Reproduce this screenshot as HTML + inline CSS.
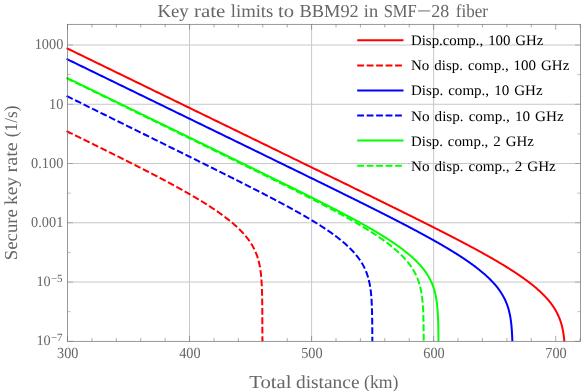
<!DOCTYPE html>
<html><head><meta charset="utf-8"><title>Key rate limits</title>
<style>html,body{margin:0;padding:0;background:#fff;}body{width:581px;height:391px;overflow:hidden;position:relative;font-family:"Liberation Serif",serif;}svg text{font-family:"Liberation Serif",serif;text-rendering:geometricPrecision;}</style></head>
<body>
<svg width="581" height="391" viewBox="0 0 581 391" style="position:absolute;left:0;top:0;will-change:transform">
<line x1="67.5" x2="580.5" y1="45.00" y2="45.00" stroke="#c8c8c8" stroke-width="1"/>
<line x1="67.5" x2="580.5" y1="104.26" y2="104.26" stroke="#c8c8c8" stroke-width="1"/>
<line x1="67.5" x2="580.5" y1="163.52" y2="163.52" stroke="#c8c8c8" stroke-width="1"/>
<line x1="67.5" x2="580.5" y1="222.78" y2="222.78" stroke="#c8c8c8" stroke-width="1"/>
<line x1="67.5" x2="580.5" y1="282.04" y2="282.04" stroke="#c8c8c8" stroke-width="1"/>
<line x1="189.55" x2="189.55" y1="24.3" y2="341.3" stroke="#c8c8c8" stroke-width="1"/>
<line x1="311.60" x2="311.60" y1="24.3" y2="341.3" stroke="#c8c8c8" stroke-width="1"/>
<line x1="433.65" x2="433.65" y1="24.3" y2="341.3" stroke="#c8c8c8" stroke-width="1"/>
<path d="M67.5 341.30h5.5M580.5 341.30h-5.5M67.5 311.67h3.2M580.5 311.67h-3.2M67.5 282.04h5.5M580.5 282.04h-5.5M67.5 252.41h3.2M580.5 252.41h-3.2M67.5 222.78h5.5M580.5 222.78h-5.5M67.5 193.15h3.2M580.5 193.15h-3.2M67.5 163.52h5.5M580.5 163.52h-5.5M67.5 133.89h3.2M580.5 133.89h-3.2M67.5 104.26h5.5M580.5 104.26h-5.5M67.5 74.63h3.2M580.5 74.63h-3.2M67.5 45.00h5.5M580.5 45.00h-5.5" stroke="#666" stroke-width="0.4" fill="none"/>
<path d="M67.50 341.3v-5.5M67.50 24.3v5.5M91.91 341.3v-3.2M91.91 24.3v3.2M116.32 341.3v-3.2M116.32 24.3v3.2M140.73 341.3v-3.2M140.73 24.3v3.2M165.14 341.3v-3.2M165.14 24.3v3.2M189.55 341.3v-5.5M189.55 24.3v5.5M213.96 341.3v-3.2M213.96 24.3v3.2M238.37 341.3v-3.2M238.37 24.3v3.2M262.78 341.3v-3.2M262.78 24.3v3.2M287.19 341.3v-3.2M287.19 24.3v3.2M311.60 341.3v-5.5M311.60 24.3v5.5M336.01 341.3v-3.2M336.01 24.3v3.2M360.42 341.3v-3.2M360.42 24.3v3.2M384.83 341.3v-3.2M384.83 24.3v3.2M409.24 341.3v-3.2M409.24 24.3v3.2M433.65 341.3v-5.5M433.65 24.3v5.5M458.06 341.3v-3.2M458.06 24.3v3.2M482.47 341.3v-3.2M482.47 24.3v3.2M506.88 341.3v-3.2M506.88 24.3v3.2M531.29 341.3v-3.2M531.29 24.3v3.2M555.70 341.3v-5.5M555.70 24.3v5.5M580.11 341.3v-3.2M580.11 24.3v3.2" stroke="#666" stroke-width="0.55" fill="none"/>
<path d="M66.60 48.11L67.50 48.55L69.94 49.74L72.38 50.93L74.82 52.11L77.26 53.30L79.70 54.49L82.15 55.68L84.59 56.86L87.03 58.05L89.47 59.24L91.91 60.43L94.35 61.62L96.79 62.80L99.23 63.99L101.67 65.18L104.11 66.37L106.56 67.55L109.00 68.74L111.44 69.93L113.88 71.12L116.32 72.31L118.76 73.49L121.20 74.68L123.64 75.87L126.08 77.06L128.53 78.24L130.97 79.43L133.41 80.62L135.85 81.81L138.29 83.00L140.73 84.18L143.17 85.37L145.61 86.56L148.05 87.75L150.49 88.94L152.94 90.12L155.38 91.31L157.82 92.50L160.26 93.69L162.70 94.87L165.14 96.06L167.58 97.25L170.02 98.44L172.46 99.63L174.90 100.81L177.34 102.00L179.79 103.19L182.23 104.38L184.67 105.56L187.11 106.75L189.55 107.94L191.99 109.13L194.43 110.32L196.87 111.50L199.31 112.69L201.75 113.88L204.20 115.07L206.64 116.26L209.08 117.44L211.52 118.63L213.96 119.82L216.40 121.01L218.84 122.20L221.28 123.38L223.72 124.57L226.16 125.76L228.61 126.95L231.05 128.13L233.49 129.32L235.93 130.51L238.37 131.70L240.81 132.89L243.25 134.07L245.69 135.26L248.13 136.45L250.57 137.64L253.02 138.83L255.46 140.02L257.90 141.20L260.34 142.39L262.78 143.58L265.22 144.77L267.66 145.96L270.10 147.14L272.54 148.33L274.99 149.52L277.43 150.71L279.87 151.90L282.31 153.09L284.75 154.28L287.19 155.46L289.63 156.65L292.07 157.84L294.51 159.03L296.95 160.22L299.39 161.41L301.84 162.60L304.28 163.79L306.72 164.98L309.16 166.17L311.60 167.36L314.04 168.54L316.48 169.73L318.92 170.92L321.36 172.11L323.81 173.30L326.25 174.49L328.69 175.69L331.13 176.88L333.57 178.07L336.01 179.26L338.45 180.45L340.89 181.64L343.33 182.83L345.77 184.02L348.21 185.22L350.66 186.41L353.10 187.60L355.54 188.80L357.98 189.99L360.42 191.18L362.86 192.38L365.30 193.57L367.74 194.77L370.18 195.96L372.62 197.16L373.24 197.46L373.85 197.76L374.46 198.06L375.07 198.36L375.68 198.66L376.29 198.96L376.90 199.26L377.51 199.56L378.12 199.85L378.73 200.15L379.34 200.45L379.95 200.75L380.56 201.05L381.17 201.35L381.78 201.65L382.39 201.95L383.00 202.25L383.61 202.55L384.22 202.85L384.83 203.15L385.44 203.45L386.05 203.75L386.66 204.05L387.27 204.35L387.88 204.65L388.49 204.95L389.10 205.25L389.71 205.55L390.32 205.85L390.93 206.16L391.54 206.46L392.15 206.76L392.76 207.06L393.37 207.36L393.98 207.66L394.59 207.96L395.20 208.26L395.81 208.56L396.42 208.86L397.03 209.16L397.65 209.47L398.26 209.77L398.87 210.07L399.48 210.37L400.09 210.67L400.70 210.97L401.31 211.27L401.92 211.58L402.53 211.88L403.14 212.18L403.75 212.48L404.36 212.78L404.97 213.09L405.58 213.39L406.19 213.69L406.80 213.99L407.41 214.30L408.02 214.60L408.63 214.90L409.24 215.20L409.85 215.51L410.46 215.81L411.07 216.11L411.68 216.42L412.29 216.72L412.90 217.02L413.51 217.33L414.12 217.63L414.73 217.93L415.34 218.24L415.95 218.54L416.56 218.84L417.17 219.15L417.78 219.45L418.39 219.76L419.00 220.06L419.61 220.37L420.22 220.67L420.83 220.98L421.44 221.28L422.06 221.59L422.67 221.89L423.28 222.20L423.89 222.50L424.50 222.81L425.11 223.11L425.72 223.42L426.33 223.73L426.94 224.03L427.55 224.34L428.16 224.65L428.77 224.95L429.38 225.26L429.99 225.57L430.60 225.87L431.21 226.18L431.82 226.49L432.43 226.80L433.04 227.10L433.65 227.41L434.26 227.72L434.87 228.03L435.48 228.34L436.09 228.65L436.70 228.95L437.31 229.26L437.92 229.57L438.53 229.88L439.14 230.19L439.75 230.50L440.36 230.81L440.97 231.12L441.58 231.43L442.19 231.74L442.80 232.05L443.41 232.37L444.02 232.68L444.63 232.99L445.24 233.30L445.85 233.61L446.47 233.93L447.08 234.24L447.69 234.55L448.30 234.86L448.91 235.18L449.52 235.49L450.13 235.81L450.74 236.12L451.35 236.43L451.96 236.75L452.57 237.06L453.18 237.38L453.79 237.70L454.40 238.01L455.01 238.33L455.62 238.65L456.23 238.96L456.84 239.28L457.45 239.60L458.06 239.92L458.67 240.23L459.28 240.55L459.89 240.87L460.50 241.19L461.11 241.51L461.72 241.83L462.33 242.15L462.94 242.47L463.55 242.79L464.16 243.11L464.77 243.44L465.38 243.76L465.99 244.08L466.60 244.41L467.21 244.73L467.82 245.05L468.43 245.38L469.04 245.70L469.65 246.03L470.26 246.36L470.88 246.68L471.49 247.01L472.10 247.34L472.71 247.66L473.32 247.99L473.93 248.32L474.54 248.65L475.15 248.98L475.76 249.31L476.37 249.64L476.98 249.98L477.59 250.31L478.20 250.64L478.81 250.97L479.42 251.31L480.03 251.64L480.64 251.98L481.25 252.32L481.86 252.65L482.47 252.99L483.08 253.33L483.69 253.67L484.30 254.01L484.91 254.35L485.52 254.69L486.13 255.03L486.74 255.37L487.35 255.72L487.96 256.06L488.57 256.40L489.18 256.75L489.79 257.10L490.40 257.44L491.01 257.79L491.62 258.14L492.23 258.49L492.84 258.84L493.45 259.19L494.06 259.55L494.67 259.90L495.29 260.26L495.90 260.61L496.51 260.97L497.12 261.33L497.73 261.68L498.34 262.04L498.95 262.41L499.56 262.77L500.17 263.13L500.78 263.50L501.39 263.86L502.00 264.23L502.61 264.60L503.22 264.97L503.83 265.34L504.44 265.71L505.05 266.08L505.66 266.46L506.27 266.84L506.88 267.21L507.49 267.59L508.10 267.97L508.71 268.36L509.32 268.74L509.93 269.13L510.54 269.52L511.15 269.90L511.76 270.30L512.37 270.69L512.98 271.08L513.59 271.48L514.20 271.88L514.81 272.28L515.42 272.68L516.03 273.08L516.64 273.49L517.25 273.90L517.86 274.31L518.47 274.72L519.09 275.14L519.70 275.56L520.31 275.98L520.92 276.40L521.53 276.83L522.14 277.26L522.75 277.69L523.36 278.12L523.97 278.56L524.58 279.00L525.19 279.44L525.80 279.89L526.41 280.34L527.02 280.79L527.63 281.25L528.24 281.71L528.85 282.17L529.46 282.64L530.07 283.11L530.68 283.58L531.29 284.06L531.90 284.55L532.51 285.04L533.12 285.53L533.73 286.03L534.34 286.53L534.95 287.04L535.56 287.55L536.17 288.07L536.78 288.60L537.39 289.13L538.00 289.67L538.61 290.21L539.22 290.76L539.83 291.32L540.44 291.89L541.05 292.46L541.66 293.05L542.27 293.64L542.88 294.24L543.49 294.85L544.11 295.47L544.72 296.10L545.33 296.75L545.94 297.40L546.55 298.07L547.16 298.75L547.77 299.45L548.38 300.16L548.99 300.89L549.60 301.64L550.21 302.40L550.82 303.19L551.43 304.00L551.55 304.16L551.67 304.33L551.79 304.49L551.92 304.66L552.04 304.83L552.16 305.00L552.28 305.17L552.40 305.34L552.53 305.52L552.65 305.69L552.77 305.87L552.89 306.04L553.01 306.22L553.14 306.40L553.26 306.58L553.38 306.76L553.50 306.95L553.63 307.13L553.75 307.32L553.87 307.50L553.99 307.69L554.11 307.88L554.24 308.07L554.36 308.27L554.48 308.46L554.60 308.66L554.72 308.85L554.85 309.05L554.97 309.25L555.09 309.46L555.21 309.66L555.33 309.87L555.46 310.08L555.58 310.28L555.70 310.50L555.82 310.71L555.94 310.93L556.07 311.14L556.19 311.36L556.31 311.59L556.43 311.81L556.55 312.04L556.68 312.27L556.80 312.50L556.92 312.73L557.04 312.97L557.16 313.21L557.29 313.45L557.41 313.70L557.53 313.95L557.65 314.20L557.77 314.45L557.90 314.71L558.02 314.97L558.14 315.23L558.26 315.50L558.39 315.77L558.51 316.04L558.63 316.32L558.75 316.60L558.87 316.89L559.00 317.18L559.12 317.48L559.24 317.78L559.36 318.08L559.48 318.39L559.61 318.71L559.73 319.03L559.85 319.35L559.97 319.68L560.09 320.02L560.22 320.37L560.34 320.72L560.46 321.07L560.58 321.44L560.70 321.81L560.83 322.19L560.95 322.58L561.07 322.98L561.19 323.39L561.31 323.81L561.44 324.23L561.56 324.67L561.68 325.12L561.80 325.59L561.92 326.07L562.05 326.56L562.17 327.06L562.29 327.59L562.41 328.13L562.53 328.69L562.66 329.27L562.78 329.87L562.90 330.50L563.02 331.15L563.15 331.84L563.27 332.55L563.39 333.30L563.51 334.09L563.63 334.93L563.76 335.82L563.88 336.76L564.00 337.77L564.12 338.86L564.24 340.03L564.36 341.30" stroke="#f00" stroke-width="2" fill="none" stroke-linejoin="round"/>
<path d="M66.60 131.01L67.50 131.58L68.11 131.88L68.72 132.18L69.33 132.48L69.94 132.78L70.55 133.08L71.16 133.37L71.77 133.67L72.38 133.97L72.99 134.27L73.60 134.57L74.21 134.87L74.82 135.17L75.43 135.47L76.04 135.77L76.65 136.07L77.26 136.37L77.87 136.67L78.48 136.97L79.09 137.27L79.70 137.57L80.32 137.87L80.93 138.17L81.54 138.47L82.15 138.77L82.76 139.07L83.37 139.37L83.98 139.67L84.59 139.97L85.20 140.27L85.81 140.57L86.42 140.87L87.03 141.17L87.64 141.47L88.25 141.77L88.86 142.07L89.47 142.37L90.08 142.67L90.69 142.98L91.30 143.28L91.91 143.58L92.52 143.88L93.13 144.18L93.74 144.48L94.35 144.78L94.96 145.08L95.57 145.38L96.18 145.69L96.79 145.99L97.40 146.29L98.01 146.59L98.62 146.89L99.23 147.19L99.84 147.50L100.45 147.80L101.06 148.10L101.67 148.40L102.28 148.70L102.89 149.01L103.50 149.31L104.11 149.61L104.73 149.91L105.34 150.22L105.95 150.52L106.56 150.82L107.17 151.13L107.78 151.43L108.39 151.73L109.00 152.03L109.61 152.34L110.22 152.64L110.83 152.95L111.44 153.25L112.05 153.55L112.66 153.86L113.27 154.16L113.88 154.46L114.49 154.77L115.10 155.07L115.71 155.38L116.32 155.68L116.93 155.99L117.54 156.29L118.15 156.60L118.76 156.90L119.37 157.21L119.98 157.51L120.59 157.82L121.20 158.12L121.81 158.43L122.42 158.74L123.03 159.04L123.64 159.35L124.25 159.65L124.86 159.96L125.47 160.27L126.08 160.57L126.69 160.88L127.30 161.19L127.91 161.50L128.53 161.80L129.14 162.11L129.75 162.42L130.36 162.73L130.97 163.03L131.58 163.34L132.19 163.65L132.80 163.96L133.41 164.27L134.02 164.58L134.63 164.89L135.24 165.20L135.85 165.51L136.46 165.82L137.07 166.13L137.68 166.44L138.29 166.75L138.90 167.06L139.51 167.37L140.12 167.68L140.73 167.99L141.34 168.30L141.95 168.62L142.56 168.93L143.17 169.24L143.78 169.55L144.39 169.87L145.00 170.18L145.61 170.49L146.22 170.81L146.83 171.12L147.44 171.43L148.05 171.75L148.66 172.06L149.27 172.38L149.88 172.69L150.49 173.01L151.10 173.33L151.71 173.64L152.32 173.96L152.94 174.28L153.55 174.59L154.16 174.91L154.77 175.23L155.38 175.55L155.99 175.86L156.60 176.18L157.21 176.50L157.82 176.82L158.43 177.14L159.04 177.46L159.65 177.78L160.26 178.11L160.87 178.43L161.48 178.75L162.09 179.07L162.70 179.39L163.31 179.72L163.92 180.04L164.53 180.37L165.14 180.69L165.75 181.02L166.36 181.34L166.97 181.67L167.58 181.99L168.19 182.32L168.80 182.65L169.41 182.98L170.02 183.30L170.63 183.63L171.24 183.96L171.85 184.29L172.46 184.62L173.07 184.95L173.68 185.29L174.29 185.62L174.90 185.95L175.51 186.28L176.12 186.62L176.73 186.95L177.34 187.29L177.96 187.62L178.57 187.96L179.18 188.30L179.79 188.64L180.40 188.98L181.01 189.31L181.62 189.65L182.23 190.00L182.84 190.34L183.45 190.68L184.06 191.02L184.67 191.37L185.28 191.71L185.89 192.06L186.50 192.40L187.11 192.75L187.72 193.10L188.33 193.45L188.94 193.80L189.55 194.15L190.16 194.50L190.77 194.85L191.38 195.21L191.99 195.56L192.60 195.92L193.21 196.27L193.82 196.63L194.43 196.99L195.04 197.35L195.65 197.71L196.26 198.07L196.87 198.44L197.48 198.80L198.09 199.17L198.70 199.53L199.31 199.90L199.92 200.27L200.53 200.64L201.14 201.01L201.75 201.39L202.37 201.76L202.98 202.14L203.59 202.52L204.20 202.89L204.81 203.28L205.42 203.66L206.03 204.04L206.64 204.43L207.25 204.81L207.86 205.20L208.47 205.59L209.08 205.99L209.69 206.38L210.30 206.78L210.91 207.17L211.52 207.57L212.13 207.98L212.74 208.38L213.35 208.79L213.96 209.19L214.57 209.61L215.18 210.02L215.79 210.43L216.40 210.85L217.01 211.27L217.62 211.69L218.23 212.12L218.84 212.55L219.45 212.98L220.06 213.41L220.67 213.85L221.28 214.29L221.89 214.73L222.50 215.17L223.11 215.62L223.72 216.07L224.33 216.53L224.94 216.99L225.55 217.45L226.16 217.92L226.78 218.39L227.39 218.86L228.00 219.34L228.61 219.83L229.22 220.31L229.83 220.81L230.44 221.30L231.05 221.81L231.66 222.31L232.27 222.83L232.88 223.34L233.49 223.87L234.10 224.40L234.71 224.94L235.32 225.48L235.93 226.03L236.54 226.59L237.15 227.15L237.76 227.73L238.37 228.31L238.98 228.90L239.59 229.50L240.20 230.10L240.81 230.72L241.42 231.35L242.03 231.99L242.64 232.65L243.25 233.31L243.86 233.99L244.47 234.68L245.08 235.39L245.69 236.12L246.30 236.86L246.91 237.62L247.52 238.41L248.13 239.21L248.26 239.37L248.38 239.54L248.50 239.70L248.62 239.87L248.74 240.04L248.87 240.21L248.99 240.38L249.11 240.55L249.23 240.72L249.35 240.89L249.48 241.07L249.60 241.24L249.72 241.42L249.84 241.60L249.96 241.78L250.09 241.96L250.21 242.14L250.33 242.32L250.45 242.51L250.58 242.69L250.70 242.88L250.82 243.07L250.94 243.26L251.06 243.45L251.19 243.64L251.31 243.84L251.43 244.03L251.55 244.23L251.67 244.43L251.80 244.63L251.92 244.83L252.04 245.04L252.16 245.24L252.28 245.45L252.41 245.66L252.53 245.87L252.65 246.09L252.77 246.30L252.89 246.52L253.02 246.74L253.14 246.96L253.26 247.19L253.38 247.42L253.50 247.64L253.63 247.88L253.75 248.11L253.87 248.35L253.99 248.59L254.11 248.83L254.24 249.07L254.36 249.32L254.48 249.57L254.60 249.83L254.72 250.08L254.85 250.34L254.97 250.61L255.09 250.88L255.21 251.15L255.33 251.42L255.46 251.70L255.58 251.98L255.70 252.27L255.82 252.56L255.95 252.85L256.07 253.15L256.19 253.46L256.31 253.77L256.43 254.08L256.56 254.40L256.68 254.73L256.80 255.06L256.92 255.40L257.04 255.74L257.17 256.09L257.29 256.45L257.41 256.82L257.53 257.19L257.65 257.57L257.78 257.96L257.90 258.36L258.02 258.76L258.14 259.18L258.26 259.61L258.39 260.05L258.51 260.50L258.63 260.96L258.75 261.44L258.87 261.93L259.00 262.44L259.12 262.96L259.24 263.50L259.36 264.06L259.48 264.65L259.61 265.25L259.73 265.88L259.85 266.53L259.97 267.21L260.09 267.93L260.22 268.68L260.34 269.47L260.46 270.31L260.58 271.19L260.71 272.14L260.83 273.15L260.95 274.23L261.07 275.41L261.19 276.69L261.32 278.10L261.44 279.67L261.56 281.45L261.68 283.49L261.80 285.89L261.93 288.82L262.05 292.57L262.17 297.85L262.29 306.82L262.40 341.30" stroke="#f00" stroke-width="2" fill="none" stroke-linejoin="round" stroke-dasharray="6.8 2.67"/>
<path d="M66.60 58.91L67.50 59.35L69.94 60.54L72.38 61.73L74.82 62.91L77.26 64.10L79.70 65.29L82.15 66.48L84.59 67.66L87.03 68.85L89.47 70.04L91.91 71.23L94.35 72.42L96.79 73.60L99.23 74.79L101.67 75.98L104.11 77.17L106.56 78.36L109.00 79.54L111.44 80.73L113.88 81.92L116.32 83.11L118.76 84.29L121.20 85.48L123.64 86.67L126.08 87.86L128.53 89.05L130.97 90.23L133.41 91.42L135.85 92.61L138.29 93.80L140.73 94.98L143.17 96.17L145.61 97.36L148.05 98.55L150.49 99.74L152.94 100.92L155.38 102.11L157.82 103.30L160.26 104.49L162.70 105.68L165.14 106.86L167.58 108.05L170.02 109.24L172.46 110.43L174.90 111.62L177.34 112.80L179.79 113.99L182.23 115.18L184.67 116.37L187.11 117.56L189.55 118.74L191.99 119.93L194.43 121.12L196.87 122.31L199.31 123.50L201.75 124.68L204.20 125.87L206.64 127.06L209.08 128.25L211.52 129.44L213.96 130.63L216.40 131.81L218.84 133.00L221.28 134.19L223.72 135.38L226.16 136.57L228.61 137.76L231.05 138.94L233.49 140.13L235.93 141.32L238.37 142.51L240.81 143.70L243.25 144.89L245.69 146.08L248.13 147.27L250.57 148.46L253.02 149.64L255.46 150.83L257.90 152.02L260.34 153.21L262.78 154.40L265.22 155.59L267.66 156.78L270.10 157.97L272.54 159.16L274.99 160.35L277.43 161.54L279.87 162.73L282.31 163.93L284.75 165.12L287.19 166.31L289.63 167.50L292.07 168.69L294.51 169.88L296.95 171.08L299.39 172.27L301.84 173.46L304.28 174.66L306.72 175.85L309.16 177.04L311.60 178.24L314.04 179.43L316.48 180.63L318.92 181.83L319.53 182.13L320.14 182.42L320.75 182.72L321.36 183.02L321.97 183.32L322.58 183.62L323.19 183.92L323.81 184.22L324.42 184.52L325.03 184.82L325.64 185.12L326.25 185.42L326.86 185.72L327.47 186.02L328.08 186.32L328.69 186.62L329.30 186.92L329.91 187.22L330.52 187.52L331.13 187.82L331.74 188.12L332.35 188.42L332.96 188.72L333.57 189.02L334.18 189.32L334.79 189.62L335.40 189.92L336.01 190.22L336.62 190.52L337.23 190.82L337.84 191.12L338.45 191.42L339.06 191.72L339.67 192.02L340.28 192.32L340.89 192.62L341.50 192.92L342.11 193.22L342.72 193.53L343.33 193.83L343.94 194.13L344.55 194.43L345.16 194.73L345.77 195.03L346.38 195.33L346.99 195.63L347.60 195.94L348.21 196.24L348.83 196.54L349.44 196.84L350.05 197.14L350.66 197.45L351.27 197.75L351.88 198.05L352.49 198.35L353.10 198.65L353.71 198.96L354.32 199.26L354.93 199.56L355.54 199.86L356.15 200.17L356.76 200.47L357.37 200.77L357.98 201.08L358.59 201.38L359.20 201.68L359.81 201.99L360.42 202.29L361.03 202.59L361.64 202.90L362.25 203.20L362.86 203.50L363.47 203.81L364.08 204.11L364.69 204.42L365.30 204.72L365.91 205.02L366.52 205.33L367.13 205.63L367.74 205.94L368.35 206.24L368.96 206.55L369.57 206.85L370.18 207.16L370.79 207.46L371.40 207.77L372.01 208.08L372.62 208.38L373.24 208.69L373.85 208.99L374.46 209.30L375.07 209.61L375.68 209.91L376.29 210.22L376.90 210.53L377.51 210.83L378.12 211.14L378.73 211.45L379.34 211.76L379.95 212.06L380.56 212.37L381.17 212.68L381.78 212.99L382.39 213.30L383.00 213.61L383.61 213.91L384.22 214.22L384.83 214.53L385.44 214.84L386.05 215.15L386.66 215.46L387.27 215.77L387.88 216.08L388.49 216.39L389.10 216.70L389.71 217.01L390.32 217.33L390.93 217.64L391.54 217.95L392.15 218.26L392.76 218.57L393.37 218.89L393.98 219.20L394.59 219.51L395.20 219.82L395.81 220.14L396.42 220.45L397.03 220.76L397.65 221.08L398.26 221.39L398.87 221.71L399.48 222.02L400.09 222.34L400.70 222.65L401.31 222.97L401.92 223.29L402.53 223.60L403.14 223.92L403.75 224.24L404.36 224.55L404.97 224.87L405.58 225.19L406.19 225.51L406.80 225.83L407.41 226.15L408.02 226.47L408.63 226.79L409.24 227.11L409.85 227.43L410.46 227.75L411.07 228.07L411.68 228.39L412.29 228.71L412.90 229.04L413.51 229.36L414.12 229.68L414.73 230.01L415.34 230.33L415.95 230.66L416.56 230.98L417.17 231.31L417.78 231.64L418.39 231.96L419.00 232.29L419.61 232.62L420.22 232.95L420.83 233.27L421.44 233.60L422.06 233.93L422.67 234.26L423.28 234.60L423.89 234.93L424.50 235.26L425.11 235.59L425.72 235.93L426.33 236.26L426.94 236.59L427.55 236.93L428.16 237.27L428.77 237.60L429.38 237.94L429.99 238.28L430.60 238.62L431.21 238.95L431.82 239.29L432.43 239.64L433.04 239.98L433.65 240.32L434.26 240.66L434.87 241.01L435.48 241.35L436.09 241.70L436.70 242.04L437.31 242.39L437.92 242.74L438.53 243.09L439.14 243.44L439.75 243.79L440.36 244.14L440.97 244.49L441.58 244.84L442.19 245.20L442.80 245.55L443.41 245.91L444.02 246.27L444.63 246.63L445.24 246.99L445.85 247.35L446.47 247.71L447.08 248.07L447.69 248.43L448.30 248.80L448.91 249.17L449.52 249.53L450.13 249.90L450.74 250.27L451.35 250.65L451.96 251.02L452.57 251.39L453.18 251.77L453.79 252.15L454.40 252.53L455.01 252.91L455.62 253.29L456.23 253.67L456.84 254.06L457.45 254.44L458.06 254.83L458.67 255.22L459.28 255.62L459.89 256.01L460.50 256.40L461.11 256.80L461.72 257.20L462.33 257.60L462.94 258.01L463.55 258.41L464.16 258.82L464.77 259.23L465.38 259.64L465.99 260.06L466.60 260.48L467.21 260.89L467.82 261.32L468.43 261.74L469.04 262.17L469.65 262.60L470.26 263.03L470.88 263.47L471.49 263.91L472.10 264.35L472.71 264.79L473.32 265.24L473.93 265.69L474.54 266.15L475.15 266.61L475.76 267.07L476.37 267.53L476.98 268.00L477.59 268.48L478.20 268.95L478.81 269.44L479.42 269.92L480.03 270.42L480.64 270.91L481.25 271.41L481.86 271.92L482.47 272.43L483.08 272.95L483.69 273.47L484.30 274.00L484.91 274.54L485.52 275.08L486.13 275.63L486.74 276.18L487.35 276.75L487.96 277.32L488.57 277.90L489.18 278.49L489.79 279.08L490.40 279.69L491.01 280.31L491.62 280.93L492.23 281.57L492.84 282.22L493.45 282.89L494.06 283.56L494.67 284.25L495.29 284.96L495.90 285.68L496.51 286.42L497.12 287.18L497.73 287.96L498.34 288.76L498.46 288.92L498.58 289.08L498.70 289.25L498.82 289.41L498.95 289.58L499.07 289.75L499.19 289.92L499.31 290.09L499.43 290.26L499.56 290.43L499.68 290.60L499.80 290.78L499.92 290.95L500.05 291.13L500.17 291.31L500.29 291.48L500.41 291.67L500.53 291.85L500.66 292.03L500.78 292.21L500.90 292.40L501.02 292.59L501.14 292.78L501.27 292.97L501.39 293.16L501.51 293.35L501.63 293.54L501.75 293.74L501.88 293.94L502.00 294.14L502.12 294.34L502.24 294.54L502.36 294.74L502.49 294.95L502.61 295.16L502.73 295.37L502.85 295.58L502.97 295.80L503.10 296.01L503.22 296.23L503.34 296.45L503.46 296.67L503.58 296.90L503.71 297.12L503.83 297.35L503.95 297.58L504.07 297.82L504.19 298.06L504.32 298.29L504.44 298.54L504.56 298.78L504.68 299.03L504.81 299.28L504.93 299.53L505.05 299.79L505.17 300.05L505.29 300.32L505.42 300.58L505.54 300.85L505.66 301.13L505.78 301.41L505.90 301.69L506.03 301.98L506.15 302.27L506.27 302.56L506.39 302.86L506.51 303.17L506.64 303.48L506.76 303.79L506.88 304.11L507.00 304.44L507.12 304.77L507.25 305.11L507.37 305.45L507.49 305.80L507.61 306.16L507.73 306.52L507.86 306.90L507.98 307.28L508.10 307.67L508.22 308.06L508.34 308.47L508.47 308.89L508.59 309.32L508.71 309.76L508.83 310.21L508.95 310.67L509.08 311.15L509.20 311.64L509.32 312.15L509.44 312.67L509.57 313.21L509.69 313.77L509.81 314.35L509.93 314.96L510.05 315.58L510.18 316.24L510.30 316.92L510.42 317.64L510.54 318.39L510.66 319.18L510.79 320.01L510.91 320.90L511.03 321.84L511.15 322.85L511.27 323.94L511.40 325.11L511.52 326.40L511.64 327.81L511.76 329.38L511.88 331.15L512.01 333.19L512.13 335.60L512.25 338.52L512.34 341.30" stroke="#00f" stroke-width="2" fill="none" stroke-linejoin="round"/>
<path d="M66.60 96.01L67.50 96.45L69.94 97.65L72.38 98.86L74.82 100.06L77.26 101.27L79.70 102.47L82.15 103.67L84.59 104.88L87.03 106.08L89.47 107.28L91.91 108.49L94.35 109.69L96.79 110.89L99.23 112.10L101.67 113.30L104.11 114.51L106.56 115.71L109.00 116.91L111.44 118.12L113.88 119.32L116.32 120.52L118.76 121.73L121.20 122.93L123.64 124.14L126.08 125.34L128.53 126.55L130.97 127.75L133.41 128.95L135.85 130.16L138.29 131.36L140.73 132.57L143.17 133.77L145.61 134.98L148.05 136.18L150.49 137.39L152.94 138.59L155.38 139.80L157.82 141.00L160.26 142.21L162.70 143.41L165.14 144.62L167.58 145.82L170.02 147.03L172.46 148.24L174.90 149.44L177.34 150.65L177.96 150.95L178.57 151.26L179.18 151.56L179.79 151.86L180.40 152.16L181.01 152.46L181.62 152.76L182.23 153.07L182.84 153.37L183.45 153.67L184.06 153.97L184.67 154.27L185.28 154.58L185.89 154.88L186.50 155.18L187.11 155.48L187.72 155.79L188.33 156.09L188.94 156.39L189.55 156.69L190.16 156.99L190.77 157.30L191.38 157.60L191.99 157.90L192.60 158.20L193.21 158.51L193.82 158.81L194.43 159.11L195.04 159.41L195.65 159.72L196.26 160.02L196.87 160.32L197.48 160.62L198.09 160.93L198.70 161.23L199.31 161.53L199.92 161.83L200.53 162.14L201.14 162.44L201.75 162.74L202.37 163.05L202.98 163.35L203.59 163.65L204.20 163.95L204.81 164.26L205.42 164.56L206.03 164.86L206.64 165.17L207.25 165.47L207.86 165.77L208.47 166.08L209.08 166.38L209.69 166.68L210.30 166.99L210.91 167.29L211.52 167.60L212.13 167.90L212.74 168.20L213.35 168.51L213.96 168.81L214.57 169.11L215.18 169.42L215.79 169.72L216.40 170.03L217.01 170.33L217.62 170.63L218.23 170.94L218.84 171.24L219.45 171.55L220.06 171.85L220.67 172.16L221.28 172.46L221.89 172.77L222.50 173.07L223.11 173.38L223.72 173.68L224.33 173.99L224.94 174.29L225.55 174.60L226.16 174.90L226.78 175.21L227.39 175.51L228.00 175.82L228.61 176.12L229.22 176.43L229.83 176.73L230.44 177.04L231.05 177.35L231.66 177.65L232.27 177.96L232.88 178.26L233.49 178.57L234.10 178.88L234.71 179.18L235.32 179.49L235.93 179.80L236.54 180.10L237.15 180.41L237.76 180.72L238.37 181.03L238.98 181.33L239.59 181.64L240.20 181.95L240.81 182.26L241.42 182.56L242.03 182.87L242.64 183.18L243.25 183.49L243.86 183.80L244.47 184.11L245.08 184.41L245.69 184.72L246.30 185.03L246.91 185.34L247.52 185.65L248.13 185.96L248.74 186.27L249.35 186.58L249.96 186.89L250.57 187.20L251.19 187.51L251.80 187.82L252.41 188.13L253.02 188.44L253.63 188.76L254.24 189.07L254.85 189.38L255.46 189.69L256.07 190.00L256.68 190.31L257.29 190.63L257.90 190.94L258.51 191.25L259.12 191.57L259.73 191.88L260.34 192.19L260.95 192.51L261.56 192.82L262.17 193.13L262.78 193.45L263.39 193.76L264.00 194.08L264.61 194.39L265.22 194.71L265.83 195.03L266.44 195.34L267.05 195.66L267.66 195.98L268.27 196.29L268.88 196.61L269.49 196.93L270.10 197.25L270.71 197.57L271.32 197.88L271.93 198.20L272.54 198.52L273.15 198.84L273.76 199.16L274.37 199.48L274.99 199.80L275.60 200.13L276.21 200.45L276.82 200.77L277.43 201.09L278.04 201.42L278.65 201.74L279.26 202.06L279.87 202.39L280.48 202.71L281.09 203.04L281.70 203.36L282.31 203.69L282.92 204.02L283.53 204.34L284.14 204.67L284.75 205.00L285.36 205.33L285.97 205.66L286.58 205.99L287.19 206.32L287.80 206.65L288.41 206.98L289.02 207.31L289.63 207.64L290.24 207.98L290.85 208.31L291.46 208.65L292.07 208.98L292.68 209.32L293.29 209.65L293.90 209.99L294.51 210.33L295.12 210.67L295.73 211.01L296.34 211.35L296.95 211.69L297.56 212.03L298.17 212.37L298.78 212.72L299.39 213.06L300.01 213.41L300.62 213.75L301.23 214.10L301.84 214.45L302.45 214.80L303.06 215.15L303.67 215.50L304.28 215.85L304.89 216.20L305.50 216.56L306.11 216.91L306.72 217.27L307.33 217.63L307.94 217.99L308.55 218.34L309.16 218.71L309.77 219.07L310.38 219.43L310.99 219.80L311.60 220.16L312.21 220.53L312.82 220.90L313.43 221.27L314.04 221.64L314.65 222.01L315.26 222.39L315.87 222.76L316.48 223.14L317.09 223.52L317.70 223.90L318.31 224.28L318.92 224.67L319.53 225.05L320.14 225.44L320.75 225.83L321.36 226.22L321.97 226.62L322.58 227.01L323.19 227.41L323.81 227.81L324.42 228.21L325.03 228.62L325.64 229.02L326.25 229.43L326.86 229.84L327.47 230.26L328.08 230.67L328.69 231.09L329.30 231.52L329.91 231.94L330.52 232.37L331.13 232.80L331.74 233.23L332.35 233.67L332.96 234.11L333.57 234.55L334.18 235.00L334.79 235.45L335.40 235.90L336.01 236.36L336.62 236.82L337.23 237.29L337.84 237.76L338.45 238.23L339.06 238.71L339.67 239.20L340.28 239.69L340.89 240.18L341.50 240.68L342.11 241.18L342.72 241.69L343.33 242.21L343.94 242.73L344.55 243.26L345.16 243.79L345.77 244.34L346.38 244.88L346.99 245.44L347.60 246.01L348.21 246.58L348.83 247.16L349.44 247.75L350.05 248.35L350.66 248.96L351.27 249.58L351.88 250.22L352.49 250.86L353.10 251.52L353.71 252.19L354.32 252.87L354.93 253.57L355.54 254.29L356.15 255.02L356.76 255.78L357.37 256.55L357.98 257.35L358.10 257.51L358.22 257.67L358.35 257.83L358.47 258.00L358.59 258.17L358.71 258.33L358.83 258.50L358.96 258.67L359.08 258.84L359.20 259.01L359.32 259.18L359.44 259.36L359.57 259.53L359.69 259.71L359.81 259.88L359.93 260.06L360.05 260.24L360.18 260.42L360.30 260.60L360.42 260.79L360.54 260.97L360.66 261.16L360.79 261.35L360.91 261.54L361.03 261.73L361.15 261.92L361.27 262.11L361.40 262.31L361.52 262.51L361.64 262.70L361.76 262.90L361.88 263.11L362.01 263.31L362.13 263.52L362.25 263.72L362.37 263.93L362.49 264.14L362.62 264.36L362.74 264.57L362.86 264.79L362.98 265.01L363.11 265.23L363.23 265.46L363.35 265.68L363.47 265.91L363.59 266.14L363.72 266.38L363.84 266.61L363.96 266.85L364.08 267.09L364.20 267.34L364.33 267.58L364.45 267.83L364.57 268.09L364.69 268.34L364.81 268.60L364.94 268.87L365.06 269.13L365.18 269.40L365.30 269.68L365.42 269.96L365.55 270.24L365.67 270.52L365.79 270.82L365.91 271.11L366.03 271.41L366.16 271.71L366.28 272.02L366.40 272.34L366.52 272.66L366.64 272.98L366.77 273.31L366.89 273.65L367.01 273.99L367.13 274.35L367.25 274.70L367.38 275.07L367.50 275.44L367.62 275.82L367.74 276.21L367.87 276.61L367.99 277.02L368.11 277.43L368.23 277.86L368.35 278.30L368.48 278.75L368.60 279.21L368.72 279.69L368.84 280.18L368.96 280.69L369.09 281.21L369.21 281.75L369.33 282.31L369.45 282.89L369.57 283.50L369.70 284.12L369.82 284.78L369.94 285.46L370.06 286.18L370.18 286.93L370.31 287.72L370.43 288.56L370.55 289.44L370.67 290.39L370.79 291.39L370.92 292.48L371.04 293.66L371.16 294.94L371.28 296.35L371.40 297.92L371.53 299.70L371.65 301.74L371.77 304.14L371.89 307.06L372.01 310.82L372.14 316.10L372.26 325.07L372.35 341.30" stroke="#00f" stroke-width="2" fill="none" stroke-linejoin="round" stroke-dasharray="6.8 2.67"/>
<path d="M66.60 77.71L67.50 78.15L69.94 79.34L72.38 80.53L74.82 81.71L77.26 82.90L79.70 84.09L82.15 85.28L84.59 86.47L87.03 87.65L89.47 88.84L91.91 90.03L94.35 91.22L96.79 92.40L99.23 93.59L101.67 94.78L104.11 95.97L106.56 97.16L109.00 98.34L111.44 99.53L113.88 100.72L116.32 101.91L118.76 103.09L121.20 104.28L123.64 105.47L126.08 106.66L128.53 107.85L130.97 109.03L133.41 110.22L135.85 111.41L138.29 112.60L140.73 113.79L143.17 114.97L145.61 116.16L148.05 117.35L150.49 118.54L152.94 119.73L155.38 120.91L157.82 122.10L160.26 123.29L162.70 124.48L165.14 125.67L167.58 126.86L170.02 128.04L172.46 129.23L174.90 130.42L177.34 131.61L179.79 132.80L182.23 133.99L184.67 135.17L187.11 136.36L189.55 137.55L191.99 138.74L194.43 139.93L196.87 141.12L199.31 142.31L201.75 143.50L204.20 144.69L206.64 145.88L209.08 147.07L211.52 148.25L213.96 149.44L216.40 150.63L218.84 151.82L221.28 153.01L223.72 154.21L226.16 155.40L228.61 156.59L231.05 157.78L233.49 158.97L235.93 160.16L238.37 161.35L240.81 162.54L243.25 163.74L245.69 164.93L246.30 165.23L246.91 165.53L247.52 165.83L248.13 166.12L248.74 166.42L249.35 166.72L249.96 167.02L250.57 167.32L251.19 167.62L251.80 167.91L252.41 168.21L253.02 168.51L253.63 168.81L254.24 169.11L254.85 169.41L255.46 169.71L256.07 170.00L256.68 170.30L257.29 170.60L257.90 170.90L258.51 171.20L259.12 171.50L259.73 171.80L260.34 172.10L260.95 172.40L261.56 172.69L262.17 172.99L262.78 173.29L263.39 173.59L264.00 173.89L264.61 174.19L265.22 174.49L265.83 174.79L266.44 175.09L267.05 175.39L267.66 175.69L268.27 175.99L268.88 176.29L269.49 176.59L270.10 176.89L270.71 177.19L271.32 177.49L271.93 177.79L272.54 178.09L273.15 178.39L273.76 178.69L274.37 178.99L274.99 179.29L275.60 179.59L276.21 179.89L276.82 180.19L277.43 180.49L278.04 180.79L278.65 181.09L279.26 181.39L279.87 181.69L280.48 181.99L281.09 182.29L281.70 182.59L282.31 182.89L282.92 183.19L283.53 183.49L284.14 183.79L284.75 184.10L285.36 184.40L285.97 184.70L286.58 185.00L287.19 185.30L287.80 185.60L288.41 185.90L289.02 186.21L289.63 186.51L290.24 186.81L290.85 187.11L291.46 187.41L292.07 187.72L292.68 188.02L293.29 188.32L293.90 188.62L294.51 188.93L295.12 189.23L295.73 189.53L296.34 189.83L296.95 190.14L297.56 190.44L298.17 190.74L298.78 191.05L299.39 191.35L300.01 191.65L300.62 191.96L301.23 192.26L301.84 192.57L302.45 192.87L303.06 193.17L303.67 193.48L304.28 193.78L304.89 194.09L305.50 194.39L306.11 194.70L306.72 195.00L307.33 195.31L307.94 195.61L308.55 195.92L309.16 196.22L309.77 196.53L310.38 196.84L310.99 197.14L311.60 197.45L312.21 197.75L312.82 198.06L313.43 198.37L314.04 198.67L314.65 198.98L315.26 199.29L315.87 199.60L316.48 199.90L317.09 200.21L317.70 200.52L318.31 200.83L318.92 201.14L319.53 201.45L320.14 201.76L320.75 202.06L321.36 202.37L321.97 202.68L322.58 202.99L323.19 203.30L323.81 203.61L324.42 203.92L325.03 204.24L325.64 204.55L326.25 204.86L326.86 205.17L327.47 205.48L328.08 205.79L328.69 206.11L329.30 206.42L329.91 206.73L330.52 207.04L331.13 207.36L331.74 207.67L332.35 207.99L332.96 208.30L333.57 208.62L334.18 208.93L334.79 209.25L335.40 209.56L336.01 209.88L336.62 210.19L337.23 210.51L337.84 210.83L338.45 211.15L339.06 211.46L339.67 211.78L340.28 212.10L340.89 212.42L341.50 212.74L342.11 213.06L342.72 213.38L343.33 213.70L343.94 214.02L344.55 214.34L345.16 214.67L345.77 214.99L346.38 215.31L346.99 215.64L347.60 215.96L348.21 216.28L348.83 216.61L349.44 216.94L350.05 217.26L350.66 217.59L351.27 217.92L351.88 218.24L352.49 218.57L353.10 218.90L353.71 219.23L354.32 219.56L354.93 219.89L355.54 220.22L356.15 220.55L356.76 220.89L357.37 221.22L357.98 221.55L358.59 221.89L359.20 222.22L359.81 222.56L360.42 222.90L361.03 223.23L361.64 223.57L362.25 223.91L362.86 224.25L363.47 224.59L364.08 224.93L364.69 225.28L365.30 225.62L365.91 225.96L366.52 226.31L367.13 226.66L367.74 227.00L368.35 227.35L368.96 227.70L369.57 228.05L370.18 228.40L370.79 228.75L371.40 229.11L372.01 229.46L372.62 229.81L373.24 230.17L373.85 230.53L374.46 230.89L375.07 231.25L375.68 231.61L376.29 231.97L376.90 232.33L377.51 232.70L378.12 233.07L378.73 233.43L379.34 233.80L379.95 234.17L380.56 234.54L381.17 234.92L381.78 235.29L382.39 235.67L383.00 236.05L383.61 236.43L384.22 236.81L384.83 237.19L385.44 237.58L386.05 237.96L386.66 238.35L387.27 238.74L387.88 239.14L388.49 239.53L389.10 239.93L389.71 240.33L390.32 240.73L390.93 241.13L391.54 241.54L392.15 241.95L392.76 242.36L393.37 242.77L393.98 243.18L394.59 243.60L395.20 244.02L395.81 244.45L396.42 244.87L397.03 245.30L397.65 245.73L398.26 246.17L398.87 246.61L399.48 247.05L400.09 247.49L400.70 247.94L401.31 248.40L401.92 248.85L402.53 249.31L403.14 249.78L403.75 250.24L404.36 250.72L404.97 251.19L405.58 251.67L406.19 252.16L406.80 252.65L407.41 253.15L408.02 253.65L408.63 254.16L409.24 254.67L409.85 255.19L410.46 255.71L411.07 256.24L411.68 256.78L412.29 257.33L412.90 257.88L413.51 258.44L414.12 259.01L414.73 259.59L415.34 260.17L415.95 260.77L416.56 261.37L417.17 261.99L417.78 262.61L418.39 263.25L419.00 263.90L419.61 264.56L420.22 265.24L420.83 265.93L421.44 266.64L422.06 267.37L422.67 268.11L423.28 268.87L423.89 269.65L424.50 270.46L424.62 270.62L424.74 270.79L424.86 270.95L424.98 271.12L425.11 271.29L425.23 271.46L425.35 271.63L425.47 271.80L425.59 271.97L425.72 272.15L425.84 272.32L425.96 272.50L426.08 272.68L426.20 272.86L426.33 273.04L426.45 273.22L426.57 273.40L426.69 273.58L426.82 273.77L426.94 273.96L427.06 274.14L427.18 274.33L427.30 274.52L427.43 274.72L427.55 274.91L427.67 275.11L427.79 275.30L427.91 275.50L428.04 275.70L428.16 275.91L428.28 276.11L428.40 276.32L428.52 276.53L428.65 276.74L428.77 276.95L428.89 277.16L429.01 277.38L429.13 277.60L429.26 277.82L429.38 278.04L429.50 278.26L429.62 278.49L429.74 278.72L429.87 278.95L429.99 279.19L430.11 279.42L430.23 279.66L430.35 279.91L430.48 280.15L430.60 280.40L430.72 280.65L430.84 280.91L430.96 281.17L431.09 281.43L431.21 281.69L431.33 281.96L431.45 282.23L431.58 282.51L431.70 282.79L431.82 283.07L431.94 283.36L432.06 283.65L432.19 283.95L432.31 284.25L432.43 284.56L432.55 284.87L432.67 285.18L432.80 285.51L432.92 285.83L433.04 286.17L433.16 286.51L433.28 286.85L433.41 287.21L433.53 287.57L433.65 287.94L433.77 288.31L433.89 288.70L434.02 289.09L434.14 289.49L434.26 289.90L434.38 290.33L434.50 290.76L434.63 291.20L434.75 291.66L434.87 292.13L434.99 292.61L435.11 293.11L435.24 293.63L435.36 294.16L435.48 294.71L435.60 295.28L435.72 295.87L435.85 296.48L435.97 297.12L436.09 297.79L436.21 298.49L436.34 299.22L436.46 299.99L436.58 300.80L436.70 301.66L436.82 302.58L436.95 303.55L437.07 304.60L437.19 305.73L437.31 306.95L437.43 308.29L437.56 309.78L437.68 311.45L437.80 313.34L437.92 315.55L438.04 318.19L438.17 321.48L438.29 325.86L438.41 332.49L438.49 341.30" stroke="#0f0" stroke-width="2" fill="none" stroke-linejoin="round"/>
<path d="M66.60 78.16L67.50 78.60L69.94 79.79L72.38 80.99L74.82 82.18L77.26 83.38L79.70 84.57L82.15 85.77L84.59 86.96L87.03 88.15L89.47 89.35L91.91 90.54L94.35 91.74L96.79 92.93L99.23 94.12L101.67 95.32L104.11 96.51L106.56 97.71L109.00 98.90L111.44 100.10L113.88 101.29L116.32 102.48L118.76 103.68L121.20 104.87L123.64 106.07L126.08 107.26L128.53 108.46L130.97 109.65L133.41 110.85L135.85 112.04L138.29 113.23L140.73 114.43L143.17 115.62L145.61 116.82L148.05 118.01L150.49 119.21L152.94 120.40L155.38 121.60L157.82 122.79L160.26 123.99L162.70 125.18L165.14 126.37L167.58 127.57L170.02 128.76L172.46 129.96L174.90 131.15L177.34 132.35L179.79 133.55L182.23 134.74L184.67 135.94L187.11 137.13L189.55 138.33L191.99 139.52L194.43 140.72L196.87 141.91L199.31 143.11L201.75 144.31L204.20 145.50L206.64 146.70L209.08 147.90L211.52 149.09L213.96 150.29L216.40 151.49L218.84 152.69L221.28 153.88L223.72 155.08L226.16 156.28L228.61 157.48L229.22 157.78L229.83 158.08L230.44 158.38L231.05 158.68L231.66 158.98L232.27 159.28L232.88 159.58L233.49 159.88L234.10 160.18L234.71 160.48L235.32 160.78L235.93 161.08L236.54 161.38L237.15 161.68L237.76 161.98L238.37 162.28L238.98 162.58L239.59 162.88L240.20 163.18L240.81 163.48L241.42 163.78L242.03 164.08L242.64 164.38L243.25 164.68L243.86 164.98L244.47 165.28L245.08 165.58L245.69 165.88L246.30 166.18L246.91 166.49L247.52 166.79L248.13 167.09L248.74 167.39L249.35 167.69L249.96 167.99L250.57 168.29L251.19 168.59L251.80 168.89L252.41 169.19L253.02 169.49L253.63 169.80L254.24 170.10L254.85 170.40L255.46 170.70L256.07 171.00L256.68 171.30L257.29 171.60L257.90 171.90L258.51 172.21L259.12 172.51L259.73 172.81L260.34 173.11L260.95 173.41L261.56 173.71L262.17 174.02L262.78 174.32L263.39 174.62L264.00 174.92L264.61 175.22L265.22 175.53L265.83 175.83L266.44 176.13L267.05 176.43L267.66 176.74L268.27 177.04L268.88 177.34L269.49 177.64L270.10 177.95L270.71 178.25L271.32 178.55L271.93 178.86L272.54 179.16L273.15 179.46L273.76 179.77L274.37 180.07L274.99 180.37L275.60 180.68L276.21 180.98L276.82 181.28L277.43 181.59L278.04 181.89L278.65 182.19L279.26 182.50L279.87 182.80L280.48 183.11L281.09 183.41L281.70 183.72L282.31 184.02L282.92 184.33L283.53 184.63L284.14 184.94L284.75 185.24L285.36 185.55L285.97 185.85L286.58 186.16L287.19 186.46L287.80 186.77L288.41 187.07L289.02 187.38L289.63 187.69L290.24 187.99L290.85 188.30L291.46 188.61L292.07 188.91L292.68 189.22L293.29 189.53L293.90 189.83L294.51 190.14L295.12 190.45L295.73 190.75L296.34 191.06L296.95 191.37L297.56 191.68L298.17 191.99L298.78 192.30L299.39 192.60L300.01 192.91L300.62 193.22L301.23 193.53L301.84 193.84L302.45 194.15L303.06 194.46L303.67 194.77L304.28 195.08L304.89 195.39L305.50 195.70L306.11 196.01L306.72 196.32L307.33 196.63L307.94 196.95L308.55 197.26L309.16 197.57L309.77 197.88L310.38 198.19L310.99 198.51L311.60 198.82L312.21 199.13L312.82 199.45L313.43 199.76L314.04 200.07L314.65 200.39L315.26 200.70L315.87 201.02L316.48 201.33L317.09 201.65L317.70 201.97L318.31 202.28L318.92 202.60L319.53 202.91L320.14 203.23L320.75 203.55L321.36 203.87L321.97 204.19L322.58 204.50L323.19 204.82L323.81 205.14L324.42 205.46L325.03 205.78L325.64 206.10L326.25 206.42L326.86 206.74L327.47 207.07L328.08 207.39L328.69 207.71L329.30 208.03L329.91 208.36L330.52 208.68L331.13 209.01L331.74 209.33L332.35 209.66L332.96 209.98L333.57 210.31L334.18 210.63L334.79 210.96L335.40 211.29L336.01 211.62L336.62 211.95L337.23 212.28L337.84 212.61L338.45 212.94L339.06 213.27L339.67 213.60L340.28 213.93L340.89 214.27L341.50 214.60L342.11 214.93L342.72 215.27L343.33 215.61L343.94 215.94L344.55 216.28L345.16 216.62L345.77 216.96L346.38 217.30L346.99 217.64L347.60 217.98L348.21 218.32L348.83 218.66L349.44 219.00L350.05 219.35L350.66 219.69L351.27 220.04L351.88 220.39L352.49 220.74L353.10 221.08L353.71 221.43L354.32 221.78L354.93 222.14L355.54 222.49L356.15 222.84L356.76 223.20L357.37 223.55L357.98 223.91L358.59 224.27L359.20 224.63L359.81 224.99L360.42 225.35L361.03 225.71L361.64 226.08L362.25 226.44L362.86 226.81L363.47 227.18L364.08 227.55L364.69 227.92L365.30 228.29L365.91 228.67L366.52 229.04L367.13 229.42L367.74 229.80L368.35 230.18L368.96 230.56L369.57 230.94L370.18 231.33L370.79 231.72L371.40 232.11L372.01 232.50L372.62 232.89L373.24 233.28L373.85 233.68L374.46 234.08L375.07 234.48L375.68 234.88L376.29 235.29L376.90 235.70L377.51 236.11L378.12 236.52L378.73 236.94L379.34 237.35L379.95 237.77L380.56 238.20L381.17 238.62L381.78 239.05L382.39 239.48L383.00 239.92L383.61 240.36L384.22 240.80L384.83 241.24L385.44 241.69L386.05 242.14L386.66 242.60L387.27 243.06L387.88 243.52L388.49 243.98L389.10 244.46L389.71 244.93L390.32 245.41L390.93 245.90L391.54 246.38L392.15 246.88L392.76 247.38L393.37 247.88L393.98 248.39L394.59 248.91L395.20 249.43L395.81 249.96L396.42 250.49L397.03 251.04L397.65 251.59L398.26 252.14L398.87 252.71L399.48 253.28L400.09 253.86L400.70 254.45L401.31 255.05L401.92 255.66L402.53 256.28L403.14 256.91L403.75 257.55L404.36 258.21L404.97 258.88L405.58 259.56L406.19 260.26L406.80 260.97L407.41 261.70L408.02 262.45L408.63 263.22L409.24 264.02L409.36 264.18L409.48 264.34L409.61 264.50L409.73 264.67L409.85 264.83L409.97 265.00L410.09 265.16L410.22 265.33L410.34 265.50L410.46 265.67L410.58 265.84L410.70 266.01L410.83 266.19L410.95 266.36L411.07 266.54L411.19 266.72L411.31 266.89L411.44 267.07L411.56 267.25L411.68 267.44L411.80 267.62L411.93 267.81L412.05 267.99L412.17 268.18L412.29 268.37L412.41 268.56L412.54 268.75L412.66 268.95L412.78 269.14L412.90 269.34L413.02 269.54L413.15 269.74L413.27 269.94L413.39 270.14L413.51 270.35L413.63 270.56L413.76 270.77L413.88 270.98L414.00 271.19L414.12 271.41L414.24 271.62L414.37 271.84L414.49 272.06L414.61 272.29L414.73 272.51L414.85 272.74L414.98 272.97L415.10 273.21L415.22 273.44L415.34 273.68L415.46 273.92L415.59 274.17L415.71 274.42L415.83 274.67L415.95 274.92L416.07 275.18L416.20 275.44L416.32 275.70L416.44 275.97L416.56 276.24L416.69 276.51L416.81 276.79L416.93 277.07L417.05 277.36L417.17 277.65L417.30 277.94L417.42 278.24L417.54 278.55L417.66 278.85L417.78 279.17L417.91 279.49L418.03 279.81L418.15 280.15L418.27 280.48L418.39 280.83L418.52 281.18L418.64 281.53L418.76 281.90L418.88 282.27L419.00 282.65L419.13 283.04L419.25 283.44L419.37 283.85L419.49 284.26L419.61 284.69L419.74 285.13L419.86 285.58L419.98 286.04L420.10 286.52L420.22 287.01L420.35 287.52L420.47 288.04L420.59 288.58L420.71 289.14L420.83 289.72L420.96 290.33L421.08 290.95L421.20 291.61L421.32 292.29L421.45 293.01L421.57 293.76L421.69 294.55L421.81 295.38L421.93 296.27L422.06 297.21L422.18 298.22L422.30 299.31L422.42 300.48L422.54 301.76L422.67 303.18L422.79 304.75L422.91 306.52L423.03 308.56L423.15 310.96L423.28 313.89L423.40 317.65L423.52 322.92L423.64 331.90L423.72 341.30" stroke="#0f0" stroke-width="2" fill="none" stroke-linejoin="round" stroke-dasharray="6.8 2.67"/>
<rect x="67.5" y="24.3" width="513.00" height="317.00" fill="none" stroke="#666" stroke-width="0.67"/>
<line x1="357.2" x2="403.5" y1="40.2" y2="40.2" stroke="#f00" stroke-width="2"/>
<text x="411" y="45.2" font-size="14.5" fill="#000" style="word-spacing:1.2px" textLength="132.4" lengthAdjust="spacingAndGlyphs">Disp.comp., 100 GHz</text>
<line x1="357.2" x2="403.5" y1="65.4" y2="65.4" stroke="#f00" stroke-width="2" stroke-dasharray="6.8 2.67"/>
<text x="411" y="70.4" font-size="14.5" fill="#000" style="word-spacing:1.2px" textLength="158.3" lengthAdjust="spacingAndGlyphs">No disp. comp., 100 GHz</text>
<line x1="357.2" x2="403.5" y1="90.4" y2="90.4" stroke="#00f" stroke-width="2"/>
<text x="411" y="95.4" font-size="14.5" fill="#000" style="word-spacing:1.2px" textLength="131.6" lengthAdjust="spacingAndGlyphs">Disp. comp., 10 GHz</text>
<line x1="357.2" x2="403.5" y1="115.5" y2="115.5" stroke="#00f" stroke-width="2" stroke-dasharray="6.8 2.67"/>
<text x="411" y="120.5" font-size="14.5" fill="#000" style="word-spacing:1.2px" textLength="152.7" lengthAdjust="spacingAndGlyphs">No disp. comp., 10 GHz</text>
<line x1="357.2" x2="403.5" y1="140.6" y2="140.6" stroke="#0f0" stroke-width="2"/>
<text x="411" y="145.6" font-size="14.5" fill="#000" style="word-spacing:1.2px" textLength="122.8" lengthAdjust="spacingAndGlyphs">Disp. comp., 2 GHz</text>
<line x1="357.2" x2="403.5" y1="165.7" y2="165.7" stroke="#0f0" stroke-width="2" stroke-dasharray="6.8 2.67"/>
<text x="411" y="170.7" font-size="14.5" fill="#000" style="word-spacing:1.2px" textLength="144.8" lengthAdjust="spacingAndGlyphs">No disp. comp., 2 GHz</text>
<text x="67.80" y="358.4" font-size="15.4" fill="#666" text-anchor="middle" textLength="21.4" lengthAdjust="spacingAndGlyphs">300</text>
<text x="189.85" y="358.4" font-size="15.4" fill="#666" text-anchor="middle" textLength="21.4" lengthAdjust="spacingAndGlyphs">400</text>
<text x="311.90" y="358.4" font-size="15.4" fill="#666" text-anchor="middle" textLength="21.4" lengthAdjust="spacingAndGlyphs">500</text>
<text x="433.95" y="358.4" font-size="15.4" fill="#666" text-anchor="middle" textLength="21.4" lengthAdjust="spacingAndGlyphs">600</text>
<text x="556.00" y="358.4" font-size="15.4" fill="#666" text-anchor="middle" textLength="21.4" lengthAdjust="spacingAndGlyphs">700</text>
<text x="63.3" y="49.30" font-size="15" fill="#666" text-anchor="end" textLength="28.60" lengthAdjust="spacingAndGlyphs">1000</text>
<text x="63.3" y="108.56" font-size="15" fill="#666" text-anchor="end" textLength="14.30" lengthAdjust="spacingAndGlyphs">10</text>
<text x="63.3" y="167.82" font-size="15" fill="#666" text-anchor="end" textLength="32.18" lengthAdjust="spacingAndGlyphs">0.100</text>
<text x="63.3" y="227.08" font-size="15" fill="#666" text-anchor="end" textLength="32.18" lengthAdjust="spacingAndGlyphs">0.001</text>
<text x="62.6" y="286.04" font-size="14.3" fill="#666" text-anchor="end">10<tspan dy="-4.3" dx="0.2" font-size="11">−5</tspan></text>
<text x="62.6" y="345.30" font-size="14.3" fill="#666" text-anchor="end">10<tspan dy="-4.3" dx="0.2" font-size="11">−7</tspan></text>
<text x="157.54" y="16.8" font-size="18.3" fill="#666" textLength="31.19" lengthAdjust="spacingAndGlyphs">Key</text>
<text x="193.94" y="16.8" font-size="18.3" fill="#666" textLength="31.42" lengthAdjust="spacingAndGlyphs">rate</text>
<text x="230.77" y="16.8" font-size="18.3" fill="#666" textLength="42.56" lengthAdjust="spacingAndGlyphs">limits</text>
<text x="277.96" y="16.8" font-size="18.3" fill="#666" textLength="16.07" lengthAdjust="spacingAndGlyphs">to</text>
<text x="299.58" y="16.8" font-size="18.3" fill="#666" textLength="59.25" lengthAdjust="spacingAndGlyphs">BBM92</text>
<text x="363.82" y="16.8" font-size="18.3" fill="#666" textLength="14.32" lengthAdjust="spacingAndGlyphs">in</text>
<text x="383.64" y="16.8" font-size="18.3" fill="#666" textLength="33.10" lengthAdjust="spacingAndGlyphs">SMF</text>
<text x="416.82" y="16.8" font-size="18.3" fill="#666" textLength="14.74" lengthAdjust="spacingAndGlyphs">−</text>
<text x="431.18" y="16.8" font-size="18.3" fill="#666" textLength="17.98" lengthAdjust="spacingAndGlyphs">28</text>
<text x="455.77" y="16.8" font-size="18.3" fill="#666" textLength="32.23" lengthAdjust="spacingAndGlyphs">fiber</text>
<text x="249.17" y="387.9" font-size="18.3" fill="#666" textLength="42.39" lengthAdjust="spacingAndGlyphs">Total</text>
<text x="295.97" y="387.9" font-size="18.3" fill="#666" textLength="63.57" lengthAdjust="spacingAndGlyphs">distance</text>
<text x="364.03" y="387.9" font-size="18.3" fill="#666" textLength="34.41" lengthAdjust="spacingAndGlyphs">(km)</text>
<text transform="translate(16.8,260.15) rotate(-90)" font-size="18.3" fill="#666" textLength="50.97" lengthAdjust="spacingAndGlyphs">Secure</text>
<text transform="translate(16.8,205.08) rotate(-90)" font-size="18.3" fill="#666" textLength="28.08" lengthAdjust="spacingAndGlyphs">key</text>
<text transform="translate(16.8,172.55) rotate(-90)" font-size="18.3" fill="#666" textLength="30.35" lengthAdjust="spacingAndGlyphs">rate</text>
<text transform="translate(16.8,137.25) rotate(-90)" font-size="18.3" fill="#666" textLength="31.72" lengthAdjust="spacingAndGlyphs">(1/s)</text>
</svg>
</body></html>
